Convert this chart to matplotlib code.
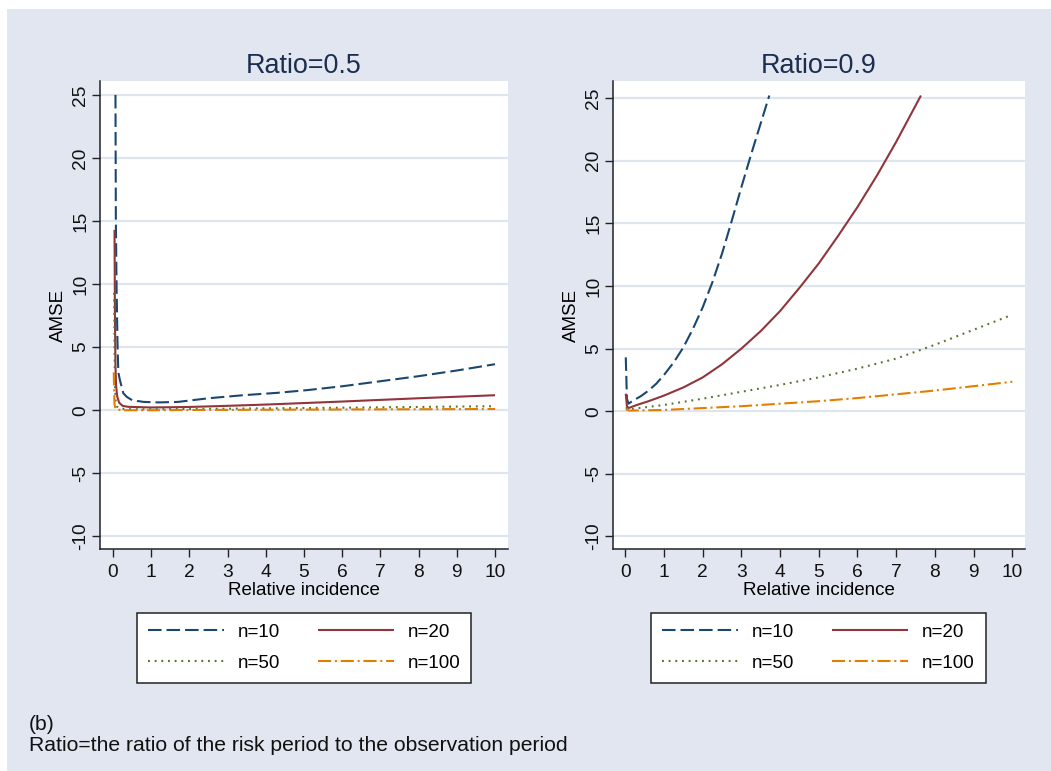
import matplotlib
matplotlib.use("Agg")
import matplotlib.pyplot as plt
from matplotlib.patches import Rectangle

plt.rcParams['font.family'] = ['Liberation Sans', 'DejaVu Sans']
plt.rcParams['axes.unicode_minus'] = False

# ---- data (Relative incidence -> AMSE) ----
# Ratio = 0.5
l_x10 = [0.065, 0.075, 0.095, 0.12, 0.14, 0.18, 0.27, 0.36, 0.5, 0.8, 1.2, 1.7, 2.5, 3.4, 4.3, 5.1, 6, 7, 8, 9, 10]
l_y10 = [25, 15, 9.5, 5.0, 3.0, 2.4, 1.35, 1.06, 0.8, 0.66, 0.62, 0.66, 0.95, 1.19, 1.38, 1.6, 1.9, 2.3, 2.7, 3.15, 3.65]
l_x20 = [0.04, 0.05, 0.065, 0.08, 0.11, 0.16, 0.25, 0.4, 1, 2, 3, 4, 5, 6, 7, 8, 9, 10]
l_y20 = [14.3, 8.0, 3.5, 2.0, 1.1, 0.6, 0.35, 0.27, 0.22, 0.26, 0.35, 0.45, 0.57, 0.69, 0.82, 0.95, 1.07, 1.19]
l_x50 = [0.03, 0.04, 0.05, 0.07, 0.1, 0.2, 0.5, 1, 2, 4, 6, 8, 10]
l_y50 = [9.3, 5.0, 2.0, 0.7, 0.3, 0.12, 0.08, 0.08, 0.1, 0.15, 0.2, 0.26, 0.32]
l_x100 = [0.02, 0.03, 0.04, 0.06, 0.1, 0.3, 1, 2, 4, 6, 8, 10]
l_y100 = [3.0, 1.5, 0.5, 0.15, 0.05, 0.0, 0.0, 0.02, 0.04, 0.06, 0.08, 0.1]

# Ratio = 0.9
r_x10 = [0.01, 0.04, 0.08, 0.2, 0.4, 0.6, 0.8, 1.0, 1.25, 1.5, 1.75, 2.0, 2.25, 2.5, 2.75, 3.0, 3.25, 3.5, 3.72]
r_y10 = [4.3, 1.0, 0.6, 0.85, 1.2, 1.65, 2.2, 2.9, 3.9, 5.1, 6.6, 8.3, 10.3, 12.6, 15.2, 17.9, 20.5, 23.0, 25.2]
r_x20 = [0.01, 0.04, 0.08, 0.3, 0.6, 1.0, 1.5, 2.0, 2.5, 3.0, 3.5, 4.0, 4.5, 5.0, 5.5, 6.0, 6.5, 7.0, 7.64]
r_y20 = [1.4, 0.4, 0.25, 0.5, 0.8, 1.25, 1.9, 2.7, 3.75, 5.0, 6.4, 8.0, 9.85, 11.8, 14.0, 16.3, 18.8, 21.5, 25.2]
r_x50 = [0.01, 0.1, 1, 2, 3, 4, 5, 6, 7, 8, 9, 10]
r_y50 = [0.3, 0.15, 0.5, 1.0, 1.55, 2.1, 2.7, 3.4, 4.2, 5.3, 6.5, 7.7]
r_x100 = [0.01, 0.1, 1, 2, 3, 4, 5, 6, 7, 8, 9, 10]
r_y100 = [0.15, 0.05, 0.1, 0.25, 0.4, 0.6, 0.8, 1.05, 1.35, 1.65, 2.0, 2.35]

panels = [
    ("Ratio=0.5", [(l_x10, l_y10), (l_x20, l_y20), (l_x50, l_y50), (l_x100, l_y100)]),
    ("Ratio=0.9", [(r_x10, r_y10), (r_x20, r_y20), (r_x50, r_y50), (r_x100, r_y100)]),
]
labels = ["n=10", "n=20", "n=50", "n=100"]
colors = ["#1a476f", "#90353b", "#55752f", "#e37e00"]
dashes = [(6.5, 2.4), None, (0.9, 2.3), (6.3, 1.8, 1, 1.8)]

W, H = 1051, 771
fig = plt.figure(figsize=(W / 100, H / 100), dpi=100, facecolor="white")
bg = "#e1e6f0"
fig.add_artist(Rectangle((7 / W, 0), 1, 1 - 9 / H, transform=fig.transFigure,
                         facecolor=bg, edgecolor="none", zorder=-10))

# axes boxes in pixels: left, right, top, bottom
boxes = [(100, 508, 81, 549), (613, 1025, 81, 549)]
xlims = [(-0.34, 10.34), (-0.32, 10.33)]
ylims = [(-11.0, 26.1), (-11.0, 26.36)]
legend_cx = [304, 818.5]

for i, (title, series) in enumerate(panels):
    l, r, t, b = boxes[i]
    ax = fig.add_axes([l / W, (H - b) / H, (r - l) / W, (b - t) / H])
    ax.set_facecolor("white")
    handles = []
    for (xs, ys), lab, c, d in zip(series, labels, colors, dashes):
        ln, = ax.plot(xs, ys, color=c, lw=1.5, label=lab, solid_capstyle="butt",
                      dash_capstyle="butt")
        if d is not None:
            ln.set_dashes(d)
        handles.append(ln)
    ax.set_xlim(*xlims[i])
    ax.set_ylim(*ylims[i])
    ax.set_xticks(range(0, 11))
    ax.set_yticks([-10, -5, 0, 5, 10, 15, 20, 25])
    ax.yaxis.grid(True, color="#dfe5ef", lw=1.6)
    ax.set_axisbelow(True)
    for s in ["top", "right"]:
        ax.spines[s].set_visible(False)
    for s in ["left", "bottom"]:
        ax.spines[s].set_linewidth(1.1)
        ax.spines[s].set_color("#222222")
    ax.tick_params(direction="out", length=5.8, width=1.0, color="#222222",
                   labelsize=13.8, labelcolor="#111111")
    ax.tick_params(axis="y", pad=2)
    ax.tick_params(axis="x", pad=5)
    plt.setp(ax.get_yticklabels(), rotation=90, va="center")
    ax.set_title(title, fontsize=19.4, color="#1c2e4f", pad=5.5)
    ax.set_xlabel("Relative incidence", fontsize=13.5)
    ax.set_ylabel("AMSE", fontsize=13.5)
    ax.xaxis.set_label_coords(0.5, (b - 582) / (b - t))
    ax.yaxis.set_label_coords(-33 / (r - l), 0.5)

    order = [handles[0], handles[2], handles[1], handles[3]]
    leg = ax.legend(order, [h.get_label() for h in order], ncol=2,
                    loc="upper center", bbox_to_anchor=(legend_cx[i] / W, (H - 613) / H),
                    bbox_transform=fig.transFigure, borderaxespad=0, fontsize=13.5,
                    handlelength=4.05, handletextpad=0.75, columnspacing=2.0,
                    labelspacing=0.72, borderpad=0.58, fancybox=False,
                    framealpha=1, edgecolor="#222222")
    leg.get_frame().set_linewidth(1.1)

fig.text(29 / W, (H - 730) / H, "(b)", fontsize=15.2, va="baseline", color="#111111")
fig.text(29 / W, (H - 751) / H, "Ratio=the ratio of the risk period to the observation period",
         fontsize=15.2, va="baseline", color="#111111")

fig.savefig("out.png", dpi=100, facecolor="white")
